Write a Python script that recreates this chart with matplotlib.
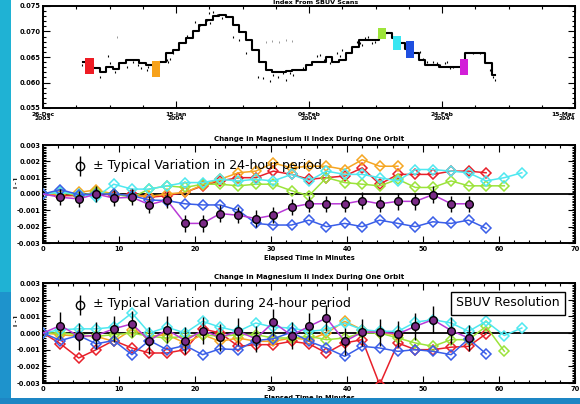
import numpy as np
import matplotlib
matplotlib.use("Agg")
import matplotlib.pyplot as plt
from matplotlib.patches import Rectangle
from matplotlib.ticker import MultipleLocator, FixedLocator, FixedFormatter

# ---------------- data ----------------
# top panel: index steps (day since 26-Dec-2003)
step_days = [6, 7, 8, 9, 10, 11, 12, 13, 14, 15, 16, 17, 18, 19, 20, 21, 22, 23, 24, 25,
             26, 27, 28, 29, 30, 31, 32, 33, 34, 35, 36, 37, 38, 39, 40, 41, 42, 43, 44, 45,
             46, 47, 48, 49, 50, 51, 52, 53, 54, 55, 56, 57, 58, 59, 60, 61, 62, 63, 64, 65,
             66, 67, 68]
step_vals = [0.0641, 0.0636, 0.0628, 0.0621, 0.0631, 0.0626, 0.0638, 0.0644, 0.0644, 0.0638,
             0.0634, 0.0632, 0.0640, 0.0657, 0.0664, 0.0677, 0.0687, 0.0700, 0.0713, 0.0723,
             0.0730, 0.0733, 0.0728, 0.0713, 0.0699, 0.0683, 0.0664, 0.0640, 0.0625, 0.0621,
             0.0621, 0.0622, 0.0624, 0.0625, 0.0634, 0.0640, 0.0640, 0.0650, 0.0640, 0.0645,
             0.0658, 0.0670, 0.0683, 0.0683, 0.0683, 0.0692, 0.0697, 0.0688, 0.0677, 0.0665,
             0.0658, 0.0644, 0.0634, 0.0634, 0.0630, 0.0630, 0.0630, 0.0630, 0.0658, 0.0658,
             0.0657, 0.0638, 0.0615]
scatter_days = [5.8, 8.6, 9.8, 10.1, 10.8, 12.6, 13.6, 14.3, 14.8, 15.6, 15.8, 18.6, 18.8, 19.1,
                19.6, 21.6, 22.9, 23.6, 24.6, 24.9, 25.1, 25.6, 26.1, 26.9, 28.6, 29.4, 30.6,
                32.4, 33.1, 34.1, 34.6, 35.4, 36.1, 36.6, 37.1, 37.6, 39.1, 41.2, 41.7, 42.2,
                43.2, 44.2, 44.7, 44.9, 47.2, 47.7, 47.9, 48.4, 48.9, 49.4, 49.9, 56.7, 57.2,
                57.7, 58.7, 59.2, 59.7, 60.5, 60.7, 61.2, 61.7, 64.7, 65.7, 67.2, 67.7, 68.0]
scatter_vals = [0.0634, 0.0611, 0.0651, 0.0638, 0.0621, 0.0631, 0.0641, 0.0634, 0.0628, 0.0625,
                0.0631, 0.0644, 0.0641, 0.0647, 0.0657, 0.0691, 0.0719, 0.0713, 0.0723, 0.0736,
                0.0716, 0.0739, 0.0732, 0.0726, 0.0690, 0.0683, 0.0657, 0.0611, 0.0608, 0.0602,
                0.0615, 0.0611, 0.0618, 0.0605, 0.0618, 0.0615, 0.0628, 0.0651, 0.0654, 0.0644,
                0.0638, 0.0657, 0.0651, 0.0664, 0.0680, 0.0677, 0.0674, 0.0687, 0.0689, 0.0677,
                0.0680, 0.0660, 0.0647, 0.0641, 0.0641, 0.0638, 0.0634, 0.0638, 0.0641, 0.0628,
                0.0631, 0.0657, 0.0657, 0.0625, 0.0611, 0.0605]
faint_days = [11.1, 33.5, 34.5, 35.5, 36.5, 37.5]
faint_vals = [0.0690, 0.0679, 0.0682, 0.0680, 0.0684, 0.0681]
rect_days = [7.0, 17.0, 51.0, 53.2, 55.2, 63.3]
rect_lo = [0.0617, 0.0611, 0.0685, 0.0664, 0.0648, 0.0615]
rect_hi = [0.0648, 0.0642, 0.0707, 0.0691, 0.0681, 0.0646]
rect_colors = ["#ee1c24", "#f7a21b", "#9ee53a", "#38e6f2", "#1f4fe0", "#d21fd8"]
top_tick_days = [0, 20, 40, 60, 80]
top_tick_labels = ["26-Dec\n2003", "15-Jan\n2004", "04-Feb\n2004", "24-Feb\n2004", "15-Mar\n2004"]

# orbit panels
minutes = [0, 2.3, 4.7, 7.0, 9.3, 11.7, 14.0, 16.3, 18.7, 21.0, 23.3, 25.7, 28.0, 30.3,
           32.7, 35.0, 37.3, 39.7, 42.0, 44.3, 46.7, 49.0, 51.3, 53.7, 56.0, 58.3, 60.7, 63.0]

red_m = [0, -0.0001, -0.0001, 0.0001, -0.0001, 0, -0.0002, -0.0001, 0.0001, 0.0005, 0.0008,
         0.001, 0.001, 0.0014, 0.0012, 0.0009, 0.001, 0.0011, 0.0016, 0.0006, 0.0012, 0.0012,
         0.0012, 0.0014, 0.0014, 0.0013]
orange_m = [0, 0, 0.0001, 0.00025, 0, -0.0001, -0.00015, 0, 0.0001, 0.00055, 0.0009, 0.0013,
            0.0014, 0.0019, 0.0016, 0.0017, 0.0017, 0.0015, 0.0021, 0.0017, 0.0017]
green_m = [0, 0.0001, -0.0001, 0.0001, 0, -0.0002, 0.0003, 0.0005, 0.0004, 0.0006, 0.0006,
           0.0005, 0.0006, 0.0006, 0.0002, -0.0001, 0.001, 0.0007, 0.0006, 0.0005, 0.0009,
           0.0004, 0.0004, 0.0008, 0.0005, 0.0005, 0.0005]
cyan_m = [0, 0.0001, 0, -0.0002, 0.0006, 0.0003, 0.0003, 0.0005, 0.0007, 0.0007, 0.0009,
          0.0008, 0.0009, 0.0008, 0.0012, 0.0008, 0.0014, 0.0012, 0.0012, 0.001, 0.0008,
          0.0015, 0.0015, 0.0014, 0.0013, 0.0008, 0.001, 0.0013]
blue_m = [0, 0.00027, -0.00004, 0, 0, -0.0001, -0.00037, -0.0004, -0.0006, -0.00067, -0.00067,
          -0.001, -0.0018, -0.0019, -0.0019, -0.0016, -0.002, -0.0018, -0.002, -0.0016,
          -0.0018, -0.002, -0.0017, -0.0018, -0.0016, -0.0021]
magenta_m = [0, -0.0002, -0.0003, 0, -0.00025, -0.0002, -0.00065, -0.00037, -0.0018, -0.0018,
             -0.0012, -0.0013, -0.0015, -0.0013, -0.0008, -0.0006, -0.0006, -0.0006, -0.0004,
             -0.0006, -0.00045, -0.00045, -0.00004, -0.0006, -0.0006]

red_b = [0, -0.00065, -0.0015, -0.001, -0.00045, -0.0009, -0.0012, -0.0012, -0.001, 0.00025,
         0, -0.0008, -0.0007, -0.0007, -0.0005, -0.00065, -0.0012, -0.0006, -0.0004, -0.0031,
         -0.0006, -0.001, -0.001, -0.00085, -0.0008, -0.00005]
orange_b = [0, -0.0001, -0.0002, -0.0002, -0.0005, 0.0002, -0.0002, -0.0001, -0.0006, -0.0001,
            -0.0005, -0.0003, -0.0005, -0.0005, -0.0003, -0.0004, 0, 0.0007, 0.0002, 0, -0.0001]
green_b = [0, 0, -0.0001, -0.0002, -0.0001, 0, -0.0002, -0.0003, -0.0002, -0.0001, -0.0002,
           -0.0001, -0.0001, -0.0003, -0.0003, -0.0002, -0.0004, -0.0003, 0, 0, -0.0003,
           -0.0006, -0.0008, -0.0004, -0.0004, 0.0004, -0.0011]
cyan_b = [0, 0.0002, 0.00025, 0.00025, 0.00035, 0.0012, 0, 0.00035, 0, 0.0007, 0.00035, 0.0001,
          0.0006, 0.00035, 0.0003, 0.0001, 0.0002, 0.0006, 0.0002, 0.0001, 0.0001, 0.00065,
          0.0008, 0.0006, 0.0001, 0.0007, -0.00015, 0.0003]
blue_b = [0, -0.00045, -0.00015, -0.00065, -0.00045, -0.0013, -0.00045, -0.001, -0.00075,
          -0.0013, -0.00095, -0.001, -0.00045, -0.00035, 0.00005, -0.0005, -0.0009, -0.0014,
          -0.0008, -0.0009, -0.0011, -0.001, -0.0011, -0.0013, -0.00035, -0.00125]
magenta_b = [0, 0.00045, -0.0002, -0.00015, 0.00025, 0.00055, -0.00045, 0.0002, -0.00045,
             0.00015, -0.00025, 0.0001, -0.00035, 0.00065, -0.00015, 0.0004, 0.0009, -0.0005,
             0.00005, 0.00005, -0.00005, 0.0004, 0.0008, 0.00015, -0.0003]

err_m = 0.0005
err_b = 0.0008
orbit_yticks = [-0.003, -0.002, -0.001, 0.0, 0.001, 0.002, 0.003]
orbit_ylabels = ["-0.003", "-0.002", "-0.001", "0.000", "0.001", "0.002", "0.003"]
top_yticks = [0.055, 0.060, 0.065, 0.070, 0.075]
top_ylabels = ["0.055", "0.060", "0.065", "0.070", "0.075"]

COL = {"red": "#e8202a", "orange": "#f5a623", "green": "#9be33a",
       "cyan": "#4fe8f0", "blue": "#3a5ee8", "magenta": "#b83ad6"}

# ---------------- figure ----------------
W, H = 580, 404
fig = plt.figure(figsize=(5.8, 4.04), dpi=100)
fig.patch.set_facecolor("white")


def rect_px(x0, y0, x1, y1):
    return [x0 / W, 1 - y1 / H, (x1 - x0) / W, (y1 - y0) / H]


# background slide decoration
fig.patches.append(Rectangle((0, 0), 11 / W, 1, transform=fig.transFigure,
                             facecolor="#1fb2d4", edgecolor="none", zorder=-5))
fig.patches.append(Rectangle((0, 0), 11 / W, 1 - 292 / H, transform=fig.transFigure,
                             facecolor="#1e93cc", edgecolor="none", zorder=-4))


def style_axes(ax):
    for s in ax.spines.values():
        s.set_linewidth(1.4)
    ax.tick_params(which="both", direction="in", top=True, right=True,
                   labelsize=4.8, width=0.8, pad=2)
    ax.tick_params(which="major", length=5)
    ax.tick_params(which="minor", length=2.5)
    for lab in ax.get_xticklabels() + ax.get_yticklabels():
        lab.set_fontweight("bold")


# ----- top panel -----
ax0 = fig.add_axes(rect_px(43, 6, 575, 108))
ax0.step(step_days, step_vals, where="mid", color="black", lw=1.5, zorder=3)
ax0.scatter(scatter_days, scatter_vals, s=3, color="black", marker="|", lw=0.8, zorder=2)
ax0.scatter(faint_days, faint_vals, s=2, color="#888888", marker="|", lw=0.6, zorder=2)
heights = [h - l for h, l in zip(rect_hi, rect_lo)]
ax0.bar(rect_days, heights, bottom=rect_lo, width=1.25, color=rect_colors,
        edgecolor="none", zorder=4)
ax0.set_xlim(0, 80)
ax0.set_ylim(0.055, 0.075)
ax0.xaxis.set_major_locator(FixedLocator(top_tick_days))
ax0.xaxis.set_major_formatter(FixedFormatter(top_tick_labels))
ax0.xaxis.set_minor_locator(MultipleLocator(5))
ax0.yaxis.set_major_locator(FixedLocator(top_yticks))
ax0.yaxis.set_major_formatter(FixedFormatter(top_ylabels))
ax0.yaxis.set_minor_locator(MultipleLocator(0.001))
style_axes(ax0)
ax0.tick_params(axis="x", labelsize=4.3, pad=3)
fig.canvas.draw()
xlabs = ax0.get_xticklabels()
for lab in xlabs:
    lab.set_linespacing(0.8)
xlabs[-1].set_horizontalalignment("right")
xlabs[-1].set_x(79.6)
fig.text(0.545, 0.9995, "Index From SBUV Scans", ha="center", va="top",
         fontsize=4.6, fontweight="bold")


def orbit_panel(box, series, circ_vals, err, legend_text, title):
    ax = fig.add_axes(rect_px(*box))
    ax.axhline(0, color="black", lw=1.3, zorder=1)
    for name, vals in series:
        ax.plot(minutes[:len(vals)], vals, color=COL[name], lw=1.1, marker="D",
                markersize=5, markerfacecolor="none", markeredgewidth=1.1, zorder=3)
    ax.plot(minutes[:len(circ_vals)], circ_vals, color=COL["magenta"], lw=1.1, zorder=3)
    ax.errorbar(minutes[1:len(circ_vals)], circ_vals[1:], yerr=err, fmt="o",
                color="black", ecolor="black", elinewidth=1.0, capsize=0,
                markersize=5.5, markerfacecolor="#7a2a86", markeredgecolor="black",
                markeredgewidth=1.0, zorder=5)
    # legend symbol
    ax.errorbar([4.9], [0.0017], yerr=0.0006, fmt="o", color="black",
                elinewidth=1.0, capsize=0, markersize=6, markerfacecolor="none",
                markeredgewidth=1.0, zorder=6)
    ax.text(6.6, 0.00175, legend_text, fontsize=9, va="center", ha="left",
            family=["Liberation Sans Narrow", "DejaVu Sans"])
    ax.set_xlim(0, 70)
    ax.set_ylim(-0.003, 0.003)
    ax.xaxis.set_major_locator(MultipleLocator(10))
    ax.xaxis.set_minor_locator(MultipleLocator(2))
    ax.yaxis.set_major_locator(FixedLocator(orbit_yticks))
    ax.yaxis.set_major_formatter(FixedFormatter(orbit_ylabels))
    ax.yaxis.set_minor_locator(MultipleLocator(0.0001))
    style_axes(ax)
    ax.set_title(title, fontsize=5, fontweight="bold", pad=3)
    ax.set_xlabel("Elapsed Time in Minutes", fontsize=4.8, fontweight="bold", labelpad=2)
    ax.text(-0.05, 0.62, "I - I\u0304", transform=ax.transAxes, rotation=90,
            fontsize=4.2, fontweight="bold", ha="center", va="center")
    return ax


title = "Change in Magnesium II Index During One Orbit"
ax1 = orbit_panel((43, 145, 575, 243),
                  [("red", red_m), ("orange", orange_m), ("green", green_m),
                   ("cyan", cyan_m), ("blue", blue_m)],
                  magenta_m, err_m, "\u00b1 Typical Variation in 24-hour period", title)
ax2 = orbit_panel((43, 283, 575, 383),
                  [("red", red_b), ("orange", orange_b), ("green", green_b),
                   ("cyan", cyan_b), ("blue", blue_b)],
                  magenta_b, err_b, "\u00b1 Typical Variation during 24-hour period", title)
ax2.text(61.2, 0.0018, "SBUV Resolution", fontsize=9, va="center", ha="center",
         family=["Liberation Sans Narrow", "DejaVu Sans"],
         bbox=dict(boxstyle="square,pad=0.4", facecolor="white", edgecolor="black", lw=1.0),
         zorder=7)

# bottom blue strip over everything
fig.artists.append(Rectangle((0, 0), 1, 6 / H, transform=fig.transFigure,
                             facecolor="#1d86c4", edgecolor="none", zorder=10))

fig.savefig("out.png", dpi=100)
